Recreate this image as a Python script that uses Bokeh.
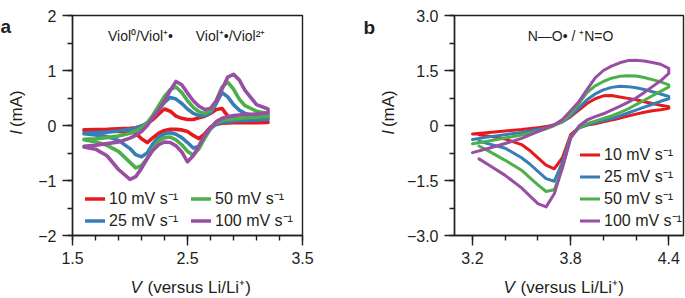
import math
from bokeh.plotting import figure
from bokeh.models import (Range1d, FixedTicker, Label, Legend, LegendItem,
                          CustomJSTickFormatter)
from bokeh.layouts import row, column
from bokeh.embed import file_html
from bokeh.resources import INLINE

FONT = "Liberation Sans"
INK = "#231f20"

# ---------------- data ----------------
rates = ["10 mV s⁻¹", "25 mV s⁻¹", "50 mV s⁻¹", "100 mV s⁻¹"]
colors = ["#e41a1c", "#377eb8", "#4daf4a", "#984ea3"]

# panel a: viologen, V vs Li/Li+ (forward = anodic scan, reverse = cathodic scan)
a_v = [1.6, 1.7, 1.8, 1.9, 2.0, 2.05, 2.1, 2.15, 2.2, 2.25, 2.3, 2.35, 2.4, 2.45,
       2.5, 2.55, 2.6, 2.65, 2.7, 2.75, 2.8, 2.85, 2.9, 2.95, 3.0, 3.1, 3.2]
a_fwd_10 = [-0.08, -0.075, -0.07, -0.06, -0.05, -0.04, -0.01, 0.04, 0.11, 0.21, 0.30, 0.26,
            0.17, 0.13, 0.11, 0.11, 0.14, 0.17, 0.22, 0.29, 0.31, 0.17, 0.11, 0.09, 0.08, 0.07, 0.065]
a_rev_10 = [-0.09, -0.095, -0.10, -0.11, -0.12, -0.14, -0.24, -0.31, -0.22, -0.14, -0.09, -0.07,
            -0.07, -0.08, -0.11, -0.18, -0.24, -0.15, -0.03, 0.02, 0.04, 0.045, 0.05, 0.05, 0.05, 0.05, 0.055]
a_fwd_25 = [-0.14, -0.13, -0.12, -0.10, -0.07, -0.05, -0.01, 0.05, 0.15, 0.29, 0.42, 0.51,
            0.48, 0.40, 0.30, 0.22, 0.18, 0.18, 0.23, 0.40, 0.60, 0.52, 0.38, 0.28, 0.22, 0.17, 0.15]
a_rev_25 = [-0.15, -0.17, -0.20, -0.27, -0.42, -0.53, -0.57, -0.50, -0.33, -0.21, -0.15, -0.13,
            -0.16, -0.22, -0.31, -0.41, -0.38, -0.22, -0.06, 0.03, 0.06, 0.07, 0.08, 0.09, 0.09, 0.10, 0.11]
a_fwd_50 = [-0.25, -0.24, -0.22, -0.19, -0.14, -0.10, -0.04, 0.05, 0.19, 0.36, 0.53, 0.65,
            0.70, 0.60, 0.45, 0.33, 0.25, 0.22, 0.27, 0.45, 0.70, 0.79, 0.66, 0.48, 0.36, 0.26, 0.22]
a_rev_50 = [-0.26, -0.30, -0.36, -0.47, -0.67, -0.77, -0.73, -0.60, -0.42, -0.28, -0.22, -0.21,
            -0.26, -0.35, -0.47, -0.54, -0.42, -0.23, -0.05, 0.05, 0.09, 0.11, 0.12, 0.13, 0.14, 0.15, 0.17]
a_fwd_100 = [-0.38, -0.36, -0.33, -0.30, -0.23, -0.18, -0.11, 0.0, 0.15, 0.28, 0.44, 0.64,
             0.80, 0.74, 0.59, 0.45, 0.35, 0.29, 0.31, 0.45, 0.66, 0.88, 0.93, 0.83, 0.64, 0.38, 0.30]
a_rev_100 = [-0.39, -0.43, -0.55, -0.80, -0.98, -0.93, -0.78, -0.60, -0.45, -0.35, -0.30, -0.31,
             -0.37, -0.48, -0.66, -0.55, -0.36, -0.18, -0.04, 0.07, 0.13, 0.16, 0.18, 0.19, 0.20, 0.21, 0.23]

# panel b: nitroxide
b_v_fwd = [3.2, 3.3, 3.4, 3.5, 3.6, 3.65, 3.7, 3.75, 3.8, 3.85, 3.9, 3.95, 4.0, 4.05,
           4.1, 4.15, 4.2, 4.25, 4.3, 4.35, 4.4]
b_v_rev = [3.24, 3.3, 3.4, 3.5, 3.55, 3.6, 3.65, 3.7, 3.75, 3.8, 3.85, 3.9, 3.95, 4.0,
           4.05, 4.1, 4.15, 4.2, 4.25, 4.3, 4.35, 4.4]
b_fwd_10 = [-0.23, -0.19, -0.15, -0.11, -0.06, -0.03, 0.02, 0.10, 0.24, 0.42, 0.60, 0.73,
            0.81, 0.82, 0.78, 0.74, 0.70, 0.65, 0.60, 0.55, 0.51]
b_rev_10 = [-0.25, -0.29, -0.37, -0.52, -0.68, -0.88, -1.08, -1.18, -0.88, -0.25, -0.06, 0.01,
            0.05, 0.10, 0.15, 0.20, 0.26, 0.31, 0.36, 0.40, 0.43, 0.47]
b_fwd_25 = [-0.38, -0.31, -0.25, -0.19, -0.11, -0.06, 0.01, 0.10, 0.27, 0.48, 0.70, 0.86,
            0.97, 1.04, 1.07, 1.06, 1.03, 0.98, 0.92, 0.86, 0.79]
b_rev_25 = [-0.43, -0.50, -0.62, -0.88, -1.05, -1.25, -1.45, -1.52, -1.00, -0.30, -0.07, 0.02,
            0.08, 0.13, 0.19, 0.26, 0.34, 0.42, 0.50, 0.58, 0.66, 0.73]
b_fwd_50 = [-0.50, -0.42, -0.34, -0.26, -0.16, -0.09, 0.0, 0.12, 0.32, 0.60, 0.90, 1.08,
            1.20, 1.29, 1.34, 1.36, 1.35, 1.31, 1.25, 1.19, 1.11]
b_rev_50 = [-0.56, -0.70, -0.95, -1.22, -1.42, -1.62, -1.80, -1.75, -1.15, -0.33, -0.06, 0.05,
            0.12, 0.19, 0.26, 0.35, 0.45, 0.57, 0.69, 0.81, 0.93, 1.05]
b_fwd_100 = [-0.74, -0.62, -0.49, -0.35, -0.17, -0.07, 0.02, 0.16, 0.40, 0.65, 0.98, 1.30,
             1.50, 1.62, 1.71, 1.77, 1.78, 1.76, 1.72, 1.67, 1.56]
b_rev_100 = [-0.91, -1.08, -1.36, -1.70, -1.92, -2.13, -2.22, -1.86, -1.15, -0.35, -0.02, 0.15,
             0.24, 0.32, 0.42, 0.52, 0.63, 0.75, 0.90, 1.06, 1.22, 1.42]

# ticks
a_xticks = [1.5, 2.5, 3.5]
a_xlabels = ["1.5", "2.5", "3.5"]
a_yticks = [-2, -1, 0, 1, 2]
a_ylabels = ["−2", "−1", "0", "1", "2"]
b_xticks = [3.2, 3.8, 4.4]
b_xlabels = ["3.2", "3.8", "4.4"]
b_yticks = [-3, -1.5, 0, 1.5, 3]
b_ylabels = ["−3.0", "−1.5", "0", "1.5", "3.0"]

a_xrange = (1.5, 3.5)
a_yrange = (-2.0, 2.0)
b_xrange = (3.09, 4.49)
b_yrange = (-3.0, 3.0)

# ---------------- layout (pixels) ----------------
TOTAL_W, TOTAL_H = 685, 298
TOP, FH, BOTTOM = 15, 220, 38
PH = TOP + FH + BOTTOM          # panel figure height
SH = TOTAL_H - PH               # bottom strip height

SA_W = 30                       # left strip of panel a
PA_W, PA_BL, PA_BR = 310, 42, 38
SB_W = 60                       # left strip of panel b
PB_W, PB_BL, PB_BR = 285, 54, 2
FWA = PA_W - PA_BL - PA_BR
FWB = PB_W - PB_BL - PB_BR


def fmt(ticks, labels):
    return CustomJSTickFormatter(args=dict(t=ticks, l=labels), code="""
        for (let i = 0; i < t.length; i++) { if (Math.abs(t[i] - tick) < 1e-9) return l[i]; }
        return "";
    """)


def frac_ticks(lo, hi, step):
    out = []
    v = lo
    while v <= hi + 1e-9:
        out.append(round(v, 6))
        v += step
    return out


def make_panel(width, bl, br, xr, yr, xt, xl, xminor, yt, yl, yminor):
    p = figure(width=width, height=PH, output_backend="svg", toolbar_location=None,
               x_range=Range1d(*xr), y_range=Range1d(*yr),
               min_border_left=bl, min_border_right=br,
               min_border_top=TOP, min_border_bottom=BOTTOM)
    p.xgrid.visible = False
    p.ygrid.visible = False
    p.outline_line_color = INK
    p.outline_line_width = 1.4
    p.background_fill_color = "white"
    p.border_fill_color = "white"
    for ax, t, lab, mn in ((p.xaxis[0], xt, xl, xminor), (p.yaxis[0], yt, yl, yminor)):
        ax.ticker = FixedTicker(ticks=t, minor_ticks=mn)
        ax.formatter = fmt(t, lab)
        ax.axis_line_color = INK
        ax.axis_line_width = 1.4
        ax.major_tick_line_color = INK
        ax.minor_tick_line_color = INK
        ax.major_tick_line_width = 1.4
        ax.minor_tick_line_width = 1.4
        ax.major_tick_in = 0
        ax.major_tick_out = 10
        ax.minor_tick_in = 0
        ax.minor_tick_out = 5
        ax.major_label_text_font = FONT
        ax.major_label_text_font_size = "16px"
        ax.major_label_text_color = INK
        ax.major_label_standoff = 6
    return p


def make_strip(w, h):
    s = figure(width=w, height=h, output_backend="svg", toolbar_location=None,
               x_range=Range1d(0, w), y_range=Range1d(h, 0),
               x_axis_type=None, y_axis_type=None, min_border=0,
               min_border_left=0, min_border_right=0, min_border_top=0, min_border_bottom=0)
    s.outline_line_color = None
    s.background_fill_color = "white"
    s.border_fill_color = "white"
    return s


def txt(p, x, y, text, size, align="center", baseline="middle", style="normal", angle=0.0):
    p.add_layout(Label(x=x, y=y, text=text, text_font=FONT, text_font_size=size,
                       text_color=INK, text_align=align, text_baseline=baseline,
                       text_font_style=style, angle=angle))


def fpos(xr, yr, fw, px, py):
    return (xr[0] + (xr[1] - xr[0]) * px / fw, yr[1] - (yr[1] - yr[0]) * py / FH)


pa = make_panel(PA_W, PA_BL, PA_BR, a_xrange, a_yrange, a_xticks, a_xlabels,
                frac_ticks(1.5, 3.5, 0.2), a_yticks, a_ylabels, frac_ticks(-2, 2, 0.5))
pb = make_panel(PB_W, PB_BL, PB_BR, b_xrange, b_yrange, b_xticks, b_xlabels,
                frac_ticks(3.2, 4.4, 0.2), b_yticks, b_ylabels, frac_ticks(-3, 3, 0.75))


def draw(p, vf, vr, curves, lw):
    rends = []
    for (fwd, rev), c in zip(curves, colors):
        xs = list(vf) + list(reversed(vr))
        ys = list(fwd) + list(reversed(rev))
        r = p.line(xs, ys, line_color=c, line_width=lw, line_join="round", line_cap="round")
        rends.append(r)
    return rends


ra = draw(pa, a_v, a_v, [(a_fwd_10, a_rev_10), (a_fwd_25, a_rev_25),
                         (a_fwd_50, a_rev_50), (a_fwd_100, a_rev_100)], 3.6)
rb = draw(pb, b_v_fwd, b_v_rev, [(b_fwd_10, b_rev_10), (b_fwd_25, b_rev_25),
                                 (b_fwd_50, b_rev_50), (b_fwd_100, b_rev_100)], 3.0)


def legend(items, loc):
    return Legend(items=items, location=loc, orientation="vertical",
                  glyph_width=20, glyph_height=19, label_height=19, label_standoff=4,
                  spacing=-2, padding=0, margin=0, border_line_color=None,
                  background_fill_alpha=0.0, label_text_font=FONT,
                  label_text_font_size="16px", label_text_color=INK)


pa.add_layout(legend([LegendItem(label=rates[0], renderers=[ra[0]]),
                      LegendItem(label=rates[1], renderers=[ra[1]])], (13, 4)))
pa.add_layout(legend([LegendItem(label=rates[2], renderers=[ra[2]]),
                      LegendItem(label=rates[3], renderers=[ra[3]])], (119, 4)))
pb.add_layout(legend([LegendItem(label=rates[i], renderers=[rb[i]]) for i in range(4)],
                     (126, 4)))

# annotations inside the frames
txt(pa, *fpos(a_xrange, a_yrange, FWA, 68, 20), "Viol⁰/Viol⁺•", "14px")
txt(pa, *fpos(a_xrange, a_yrange, FWA, 158, 20), "Viol⁺•/Viol²⁺", "14px")
txt(pb, *fpos(b_xrange, b_yrange, FWB, 116, 20), "N—O• / ⁺N=O", "14px")

# strips carrying panel letters and axis titles
sa = make_strip(SA_W, PH)
sb = make_strip(SB_W, PH)
bot = make_strip(TOTAL_W, SH)

txt(sa, 0, 14, "a", "19px", align="left", baseline="alphabetic", style="bold")
txt(sb, 23, 15, "b", "19px", align="left", baseline="alphabetic", style="bold")

for s, xc in ((sa, 16), (sb, 48)):
    txt(s, xc, 148, "I", "17px", align="left", style="italic", angle=math.pi / 2)
    txt(s, xc, 138.5, "(mA)", "17px", align="left", angle=math.pi / 2)

for x0 in (130, 503):
    txt(bot, x0, 14, "V", "17px", align="left", style="italic")
    txt(bot, x0 + 17, 14, "(versus Li/Li⁺)", "17px", align="left")

layout = column(row(sa, pa, sb, pb), bot)
open("out.html", "w").write(file_html(layout, INLINE))
